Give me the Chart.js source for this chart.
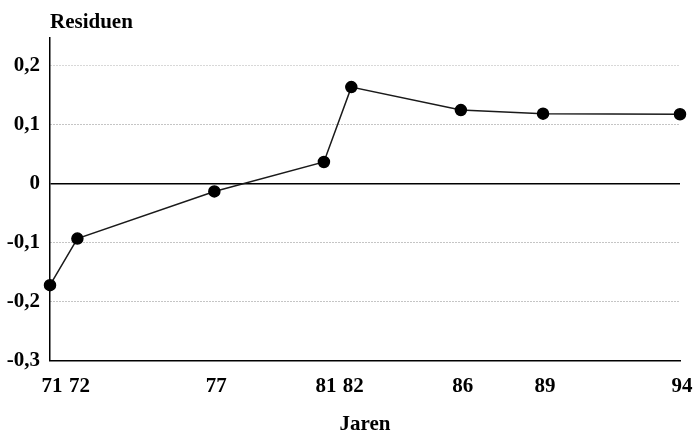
<!DOCTYPE html>
<html lang="nl">
  <head>
    <meta charset="UTF-8" />
    <title>Residuen per jaar</title>
    <script src="https://cdn.jsdelivr.net/npm/chart.js"></script>
    <style>
      body {
        margin: 0;
        background: #fff;
      }
      .chart-box {
        width: 693px;
        height: 437px;
      }
    </style>
  </head>
  <body>
    <div class="chart-box">
      <canvas id="residChart" width="693" height="437"></canvas>
    </div>

    <script>
      // jaren en residuen
      const years = [71, 72, 77, 81, 82, 86, 89, 94];
      const residuals = [-0.172, -0.093, -0.013, 0.037, 0.164, 0.125, 0.119, 0.118];
      const yTicks = [-0.3, -0.2, -0.1, 0, 0.1, 0.2];

      const serif = { family: "'Liberation Serif', serif", size: 21, weight: "bold" };

      function fmtComma(v) {
        if (Math.abs(v) < 1e-9) return "0";
        return v.toFixed(1).replace(".", ",");
      }

      new Chart(document.getElementById("residChart"), {
        type: "scatter",
        data: {
          datasets: [
            {
              data: years.map((y, i) => ({ x: y, y: residuals[i] })),
              showLine: true,
              borderColor: "#1a1a1a",
              borderWidth: 1.5,
              pointRadius: 5.5,
              pointBackgroundColor: "#000",
              pointBorderColor: "#000",
              clip: false,
            },
          ],
        },
        options: {
          responsive: false,
          animation: false,
          layout: { padding: { top: 0, right: 0, bottom: 0, left: 0 } },
          plugins: {
            legend: { display: false },
            tooltip: { enabled: false },
            title: {
              display: true,
              text: "Residuen",
              align: "start",
              fullSize: false,
              color: "#000",
              font: serif,
              padding: { top: 10, bottom: 3 },
            },
          },
          scales: {
            x: {
              type: "linear",
              min: 71,
              max: 94,
              afterBuildTicks: (scale) => {
                scale.ticks = years.map((v) => ({ value: v }));
              },
              afterFit: (scale) => {
                // laat het asgebied tot dicht bij de rechterrand lopen
                scale.paddingRight = 13;
              },
              ticks: {
                autoSkip: false,
                maxRotation: 0,
                color: "#000",
                font: serif,
                padding: 13,
                labelOffset: 2,
                callback: (v) => String(v),
              },
              grid: { display: false, drawTicks: false },
              border: { display: true, color: "#000", width: 1.5 },
              title: {
                display: true,
                text: "Jaren",
                color: "#000",
                font: serif,
                padding: { top: 0, bottom: 0 },
              },
            },
            y: {
              min: -0.3,
              max: 0.247,
              afterBuildTicks: (scale) => {
                scale.ticks = yTicks.map((v) => ({ value: v }));
              },
              afterFit: (scale) => {
                scale.width = 50;
              },
              ticks: {
                color: "#000",
                font: serif,
                padding: 10,
                callback: (v) => fmtComma(v),
              },
              grid: {
                drawTicks: false,
                color: (ctx) => {
                  const v = ctx.tick ? ctx.tick.value : null;
                  if (v === null) return "transparent";
                  if (Math.abs(v) < 1e-9) return "#000";
                  if (v < -0.25) return "transparent";
                  return v > 0.15 ? "#b0b0b0" : "#8a8a8a";
                },
                lineWidth: (ctx) =>
                  ctx.tick && Math.abs(ctx.tick.value) < 1e-9 ? 1.5 : 1,
              },
              border: {
                display: true,
                color: "#000",
                width: 1.5,
                dash: (ctx) =>
                  ctx.tick && Math.abs(ctx.tick.value) < 1e-9 ? [] : [1, 2],
              },
            },
          },
        },
      });
    </script>
  </body>
</html>
